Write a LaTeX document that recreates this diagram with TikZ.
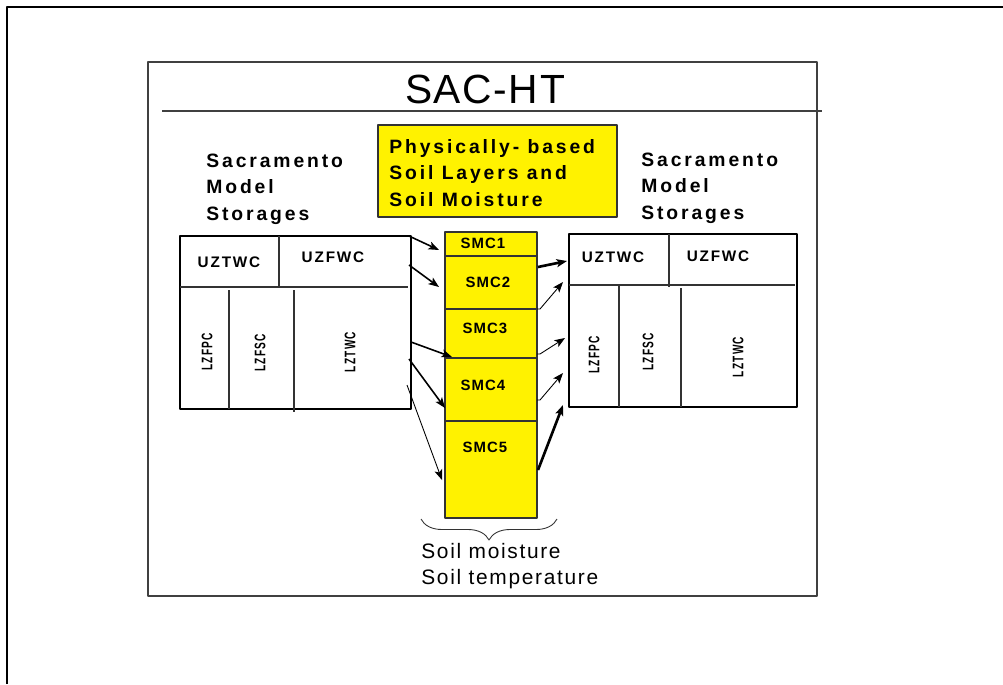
\documentclass[tikz,border=0pt]{standalone}
\usepackage{fontspec}
\usepackage{graphicx}
\setmainfont{Liberation Sans}
\newfontfamily\titlefont[LetterSpace=4]{Liberation Sans}
\newfontfamily\widefont[LetterSpace=15]{Liberation Sans}
\newfontfamily\cellfont[LetterSpace=12]{Liberation Sans}
\newfontfamily\smcfont[LetterSpace=7]{Liberation Sans}
\newfontfamily\soilfont[LetterSpace=8]{Liberation Sans}
\usetikzlibrary{arrows.meta,decorations.pathreplacing,positioning}
\tikzset{
	frame/.style = {draw=black!75, line width=0.6pt},
	box/.style = {draw=black, line width=0.6pt},
	divider/.style = {draw=black!80, line width=0.6pt},
	ybox/.style = {draw=black!80, fill=yellow, line width=0.6pt},
	big/.style = {font=\widefont\fontsize{11}{15}\selectfont\bfseries, align=left, anchor=north west, inner sep=0pt},
	cell/.style = {font=\cellfont\fontsize{8.7}{10}\selectfont\bfseries, inner sep=0pt},
	vcell/.style = {cell, rotate=90},
	smclab/.style = {font=\smcfont\fontsize{8.5}{10}\selectfont\bfseries, inner sep=0pt},
	thin arrow/.style = {->, line width=0.5pt},
	mid arrow/.style = {->, line width=0.9pt},
	thick arrow/.style = {->, line width=1.5pt},
}
\newcommand{\narrow}[1]{\scalebox{0.66}[1]{#1}}
\begin{document}
\begin{tikzpicture}[x=0.02cm, y=-0.02cm, >={Stealth[length=0.21cm, width=0.16cm, inset=0.05cm]}, line join=round]
	\useasboundingbox (0,0) rectangle (1003,684);
	\path
	(409,236) coordinate (L1) (439,250) coordinate (S1)
	(409,265) coordinate (L2) (439,287) coordinate (S2)
	(411,342) coordinate (L3) (452,357) coordinate (S3)
	(409,359) coordinate (L4) (445,408) coordinate (S4)
	(407,385) coordinate (L5) (442,480) coordinate (S5)
	(538,267) coordinate (T1) (567,261) coordinate (R1)
	(537,309) coordinate (T2) (563,282) coordinate (R2)
	(537,354) coordinate (T3) (565,338) coordinate (R3)
	(537,400) coordinate (T4) (563,373) coordinate (R4)
	(538,470) coordinate (T5) (563,405) coordinate (R5)
	(421,519) coordinate (B1) (557,519) coordinate (B2)
	;
	% frames
	\draw[line width=1.7pt] (7,684) -- (7,7) -- (1003,7);
	\draw[frame] (148,62) rectangle (817,596);
	\draw[frame] (162,111) -- (822,111);
	\node[anchor=base, inner sep=0pt] (title) at (485,103) {\titlefont\fontsize{23.2}{28}\selectfont SAC-HT};
	% headings
	\draw[ybox] (378,125) rectangle (617,217);
	\node[big] (phys) at (389,139) {Physically- based\\Soil Layers and\\Soil Moisture};
	\node[big] (sacl) at (206,153.5) {Sacramento\\Model\\Storages};
	\node[big] (sacr) at (641,152.5) {Sacramento\\Model\\Storages};
	% left storages
	\draw[box] (180,236) rectangle (411,409);
	\draw[divider] (180,287) -- (408,287);
	\draw[divider] (279,236) -- (279,287);
	\draw[divider] (229,290) -- (229,409);
	\draw[divider] (294,290) -- (294,412);
	\node[cell] (uztwcl) at (229,262) {UZTWC};
	\node[cell] (uzfwcl) at (333,257) {UZFWC};
	\node[vcell] (lzfpcl) at (207,352) {\narrow{LZFPC}};
	\node[vcell] (lzfscl) at (260,353) {\narrow{LZFSC}};
	\node[vcell] (lztwcl) at (350,352) {\narrow{LZTWC}};
	% soil layers
	\draw[ybox] (445,232) rectangle (537,256);
	\draw[ybox] (445,256) rectangle (537,309);
	\draw[ybox] (445,309) rectangle (537,358);
	\draw[ybox] (445,358) rectangle (537,421);
	\draw[ybox] (445,421) rectangle (537,518);
	\node[smclab] (smc1) at (483,243) {SMC1};
	\node[smclab] (smc2) at (488,282) {SMC2};
	\node[smclab] (smc3) at (485,328) {SMC3};
	\node[smclab] (smc4) at (483,385) {SMC4};
	\node[smclab] (smc5) at (485,447) {SMC5};
	% right storages
	\draw[box] (569,234) rectangle (797,407);
	\draw[divider] (569,285) -- (795,285);
	\draw[divider] (669,234) -- (669,287);
	\draw[divider] (619,285) -- (619,407);
	\draw[divider] (681,288) -- (681,407);
	\node[cell] (uztwcr) at (613,257) {UZTWC};
	\node[cell] (uzfwcr) at (718,256) {UZFWC};
	\node[vcell] (lzfpcr) at (594,355) {\narrow{LZFPC}};
	\node[vcell] (lzfscr) at (648,352) {\narrow{LZFSC}};
	\node[vcell] (lztwcr) at (738,357) {\narrow{LZTWC}};
	% arrows
	\draw[mid arrow] (L1) -- (S1);
	\draw[mid arrow] (L2) -- (S2);
	\draw[mid arrow] (L3) -- (S3);
	\draw[mid arrow] (L4) -- (S4);
	\draw[thin arrow] (L5) -- (S5);
	\draw[thick arrow] (T1) -- (R1);
	\draw[thin arrow] (T2) -- ++(3,0) -- (R2);
	\draw[thin arrow] (T3) -- ++(3,0) -- (R3);
	\draw[thin arrow] (T4) -- ++(3,0) -- (R4);
	\draw[thick arrow] (T5) -- (R5);
	% brace and state variables
	\draw[black!80, line width=0.5pt, decorate, decoration={brace, mirror, amplitude=0.42cm}] (B1) -- (B2);
	\node[align=left, anchor=north west, inner sep=0pt, font=\soilfont\fontsize{11.9}{14.7}\selectfont] (soil) at (421,543) {Soil moisture\\Soil temperature};
\end{tikzpicture}
\end{document}
